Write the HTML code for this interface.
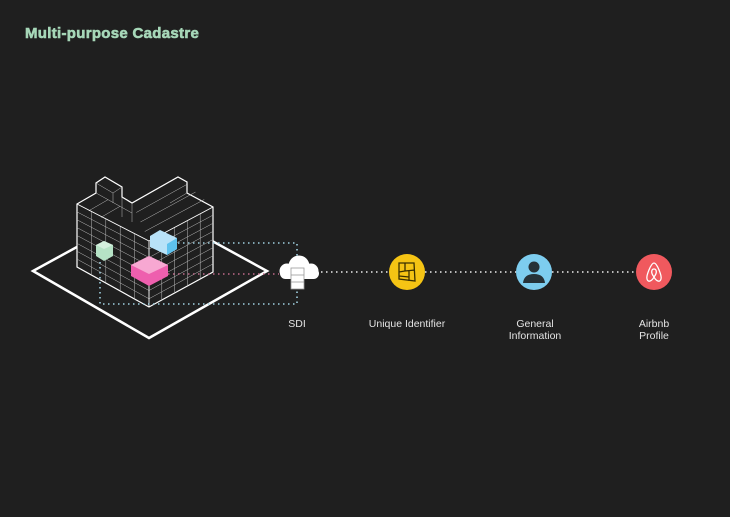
<!DOCTYPE html>
<html><head><meta charset="utf-8"><style>
html,body{margin:0;padding:0;background:#1f1f1f;}
body{width:730px;height:517px;overflow:hidden;position:relative;font-family:"Liberation Sans",sans-serif;}
.t{position:absolute;left:25px;top:25px;font-weight:bold;font-size:15px;color:#a6d7b8;letter-spacing:0.3px;-webkit-text-stroke:0.6px #a6d7b8}
.l{position:absolute;color:#e4e4e4;font-size:10.5px;text-align:center;width:120px;line-height:12px}
</style></head><body>
<div class="t">Multi-purpose Cadastre</div>
<svg width="730" height="517" style="position:absolute;left:0;top:0">
<g fill="none" stroke="#fff">
<polygon points="33,271 150,207 267,271 149,338" stroke-width="2.5"/>
<polygon points="77,204 96,193 96,183 105,177 122,187 122,197 132,203 178,177 187,182 187,193 213,207 213,272 149,307 77,267" fill="#1f1f1f" stroke-width="1.2"/>
<g id="grid" stroke="#bdbdbd" stroke-width="0.5"></g>
<line x1="149" y1="241" x2="149" y2="307" stroke-width="0.9"/>
<polyline points="77,204 149,241 213,207" stroke-width="0.9"/>
</g>
<g stroke-dasharray="1.5 3.5" stroke-width="1.6" fill="none">
<polyline points="168,243 297,243 297,256" stroke="#9fd0e0"/>
<polyline points="100,262 100,304 297,304 297,290" stroke="#9fd0e0"/>
<line x1="168" y1="274" x2="279" y2="274" stroke="#c06a8a"/>
<line x1="321" y1="272" x2="389" y2="272" stroke="#eee"/>
<line x1="425" y1="272" x2="516" y2="272" stroke="#eee"/>
<line x1="552" y1="272" x2="636" y2="272" stroke="#eee"/>
</g>
<g>
<polygon points="96,245 104,241 113,245 113,256 104,261 96,256" fill="#b6e3c6"/>
<polygon points="96,245 104,249 113,245 104,241" fill="#d5f0de"/>
<polygon points="150,236 160,230 177,238 177,249 167,255 150,247" fill="#b8e2f8"/>
<polygon points="167,244 177,238 177,249 167,255" fill="#5ec2ee"/>
<polygon points="131,265 149,256 168,265 168,276 149,286 131,276" fill="#ee5fae"/>
<polygon points="131,265 149,274 168,265 149,256" fill="#f7a8d2"/>
</g>
<g fill="#fff">
<circle cx="299" cy="266" r="10.5"/><circle cx="287" cy="271" r="7.5"/><circle cx="311" cy="271" r="7.5"/>
<rect x="280" y="268" width="39" height="11" rx="5.5"/>
<rect x="291" y="268" width="13" height="21" fill="#fff" stroke="#999" stroke-width="0.8"/>
<line x1="291" y1="275" x2="304" y2="275" stroke="#999" stroke-width="0.8"/>
<line x1="291" y1="282" x2="304" y2="282" stroke="#999" stroke-width="0.8"/>
</g>
<circle cx="407" cy="272" r="18" fill="#f5c414"/>
<g fill="none" stroke="#3a3000" stroke-width="1.3"><path d="M399,263 L414,263 L415,281 L399,279 Z M405,263 L405,271 L399,272 M405,271 L415,270 M409,271 L409,281 M399,276 L409,277"/></g>
<circle cx="534" cy="272" r="18" fill="#7dcdef"/>
<circle cx="534" cy="267" r="5.5" fill="#263238"/>
<path d="M523,283 Q524,274 534,274 Q544,274 545,283 Z" fill="#263238"/>
<circle cx="654" cy="272" r="18" fill="#f0595e"/>
<path d="M654,263 C651,263 646,276 647,279 C648,283 652,281 654,277 C656,281 660,283 661,279 C662,276 657,263 654,263 Z M654,277 C650,272 652,269 654,269 C656,269 658,272 654,277 Z" fill="none" stroke="#fff" stroke-width="1.3"/>
</svg>
<div class="l" style="left:237px;top:318px">SDI</div>
<div class="l" style="left:347px;top:318px">Unique Identifier</div>
<div class="l" style="left:475px;top:318px">General<br>Information</div>
<div class="l" style="left:594px;top:318px">Airbnb<br>Profile</div>
<script>
var g=document.getElementById('grid'),s='';
function L(a,b,c,d){s+='<line x1="'+a+'" y1="'+b+'" x2="'+c+'" y2="'+d+'"/>';}
function lerp(p,q,t){return [p[0]+(q[0]-p[0])*t,p[1]+(q[1]-p[1])*t];}
function face(A,B,C,D,nu,nv){for(var i=1;i<nu;i++){var p=lerp(A,B,i/nu),q=lerp(D,C,i/nu);L(p[0],p[1],q[0],q[1]);}
for(var j=1;j<nv;j++){var p=lerp(A,D,j/nv),q=lerp(B,C,j/nv);L(p[0],p[1],q[0],q[1]);}}
face([77,204],[149,241],[149,307],[77,267],5,8);
face([149,241],[213,207],[213,272],[149,307],5,8);
// right wing top: lines parallel to ridge
face([132,203],[178,177],[213,207],[149,241],1,4);
// left wing top
face([77,204],[96,193],[132,213],[113,224],1,3);
L(96,193,132,213);L(113,193,113,203);L(96,183,113,193);L(113,193,122,187);
L(122,197,122,217);L(132,203,132,222);L(187,193,170,203);
g.innerHTML=s;
</script>
</body></html>
